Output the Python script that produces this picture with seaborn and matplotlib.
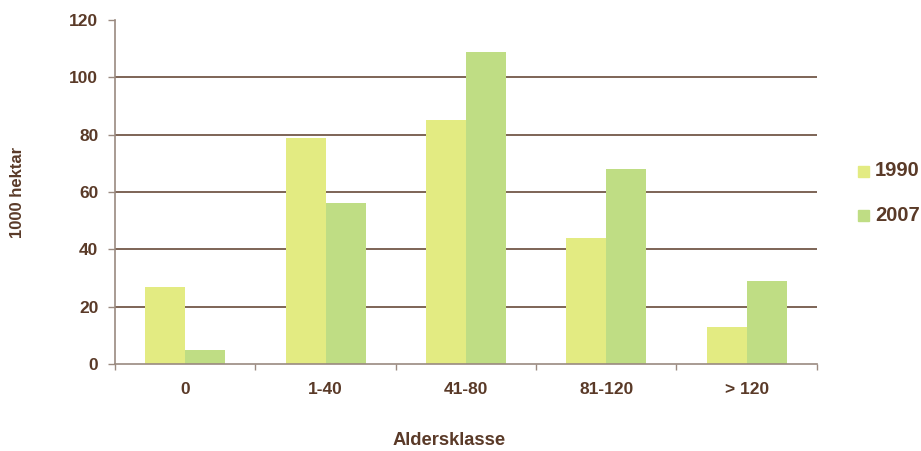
import matplotlib
matplotlib.use("Agg")
import matplotlib.pyplot as plt
import seaborn as sns
import pandas as pd

categories = ["0", "1-40", "41-80", "81-120", "> 120"]
years = ["1990", "2007"]
values_1990 = [27, 79, 85, 44, 13]
values_2007 = [5, 56, 109, 68, 29]
y_ticks = [0, 20, 40, 60, 80, 100, 120]

df = pd.DataFrame({
    "Aldersklasse": categories * 2,
    "year": [years[0]] * len(categories) + [years[1]] * len(categories),
    "hektar": values_1990 + values_2007,
})

text_color = "#5a3a28"
spine_color = "#9a8a80"
palette = {"1990": "#e3eb82", "2007": "#bfdd84"}

sns.set_style("white")
plt.rcParams["font.family"] = ["Liberation Sans", "DejaVu Sans"]
plt.rcParams["font.weight"] = "bold"

fig = plt.figure(figsize=(9.21, 4.51), dpi=100)
ax = fig.add_axes([0.1249, 0.1929, 0.762, 0.7628])

sns.barplot(data=df, x="Aldersklasse", y="hektar", hue="year",
            order=categories, hue_order=years, palette=palette,
            width=0.57, gap=0, saturation=1, ax=ax, legend=False,
            linewidth=0, zorder=3)

ax.set_ylim(0, 120)
ax.set_xlim(-0.5, len(categories) - 0.5)
ax.set_yticks(y_ticks)
ax.set_yticklabels([str(t) for t in y_ticks], fontsize=12.5,
                   fontweight="bold", color=text_color)

# gridlines at interior ticks only
for t in y_ticks[1:-1]:
    ax.axhline(t, color=text_color, linewidth=1.1, zorder=1)

# category labels centred, tick marks on group boundaries
ax.set_xticks(range(len(categories)))
ax.set_xticklabels(categories, fontsize=12.5, fontweight="bold", color=text_color)
ax.tick_params(axis="x", length=0, pad=13)
ax.set_xticks([i - 0.5 for i in range(len(categories) + 1)], minor=True)
ax.tick_params(axis="x", which="minor", length=4, width=1, color=spine_color,
               direction="out", bottom=True)
ax.tick_params(axis="y", length=5, width=1, color=spine_color,
               direction="out", left=True, pad=7)

for side in ["top", "right"]:
    ax.spines[side].set_visible(False)
for side in ["left", "bottom"]:
    ax.spines[side].set_color(spine_color)
    ax.spines[side].set_linewidth(1.2)
    ax.spines[side].set_zorder(4)

ax.set_xlabel("Aldersklasse", fontsize=13.2, fontweight="bold",
              color=text_color, labelpad=0)
ax.xaxis.set_label_coords(0.476, -0.198)
ax.set_ylabel("1000 hektar", fontsize=12, fontweight="bold", color=text_color)
ax.yaxis.set_label_coords(-0.128, 0.5)

# legend
legend_y = [171, 215]
for yr, ly in zip(years, legend_y):
    fig.patches.append(plt.Rectangle((858 / 921, 1 - (ly + 6) / 451), 11 / 921, 11 / 451,
                                     transform=fig.transFigure, color=palette[yr],
                                     figure=fig))
    fig.text(875 / 921, 1 - ly / 451, yr, fontsize=14.5, fontweight="bold",
             color=text_color, va="center", ha="left")

fig.savefig("out.png", dpi=100, facecolor="white")
